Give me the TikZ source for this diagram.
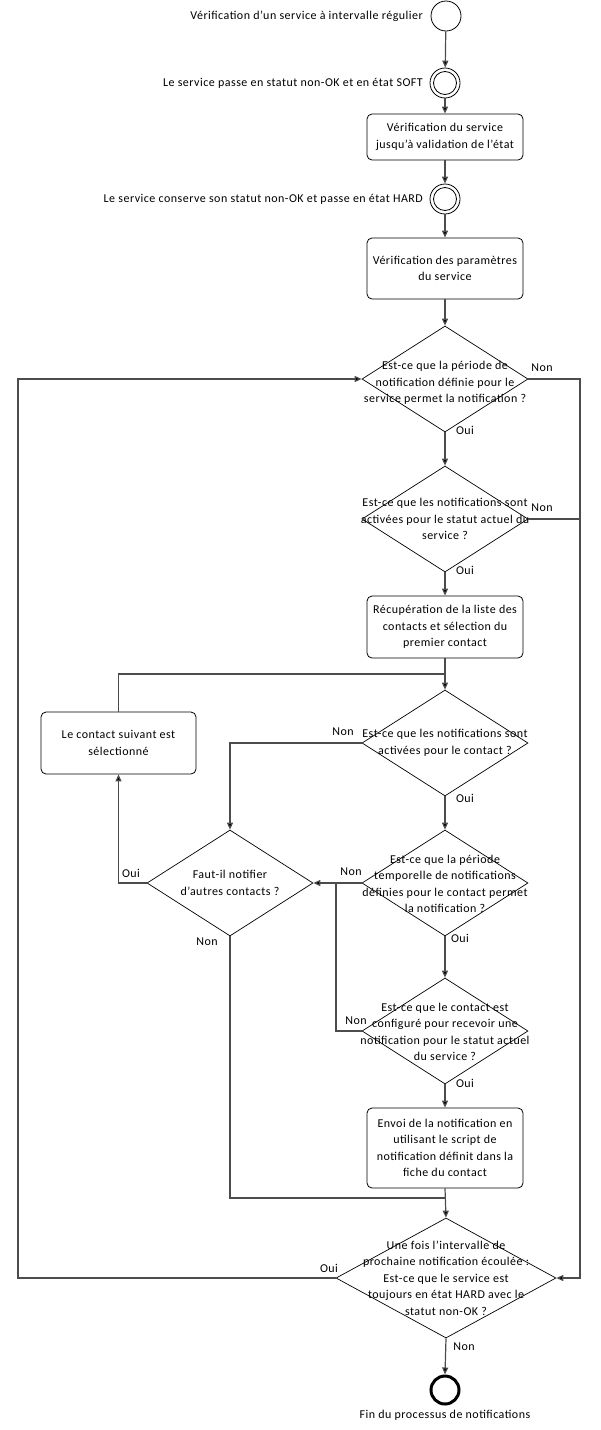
\documentclass[tikz,border=0pt]{standalone}
\usepackage{fontspec}
\setmainfont{Carlito}[LetterSpace=4]
\usetikzlibrary{arrows.meta,shapes.geometric}
\begin{document}
\begin{tikzpicture}[x=1pt,y=-1pt,
  every node/.style={font=\fontsize{12}{16.5}\selectfont},
  conn/.style={draw=black!70,line width=1.2pt},
  arr/.style={conn,-{Triangle[length=7pt,width=6pt,fill=black]}},
  box/.style={draw=black,line width=0.8pt,rounded corners=5pt,minimum width=156pt,inner sep=0pt,align=center},
  dia/.style={draw=black,line width=0.7pt,shape=diamond,minimum width=166pt,minimum height=106pt,inner sep=0pt},
  dtext/.style={align=center,inner sep=0pt},
  lbl/.style={inner sep=0pt},
  circ/.style={draw=black,line width=0.8pt,circle,minimum size=30pt,inner sep=0pt}
]
\useasboundingbox (0,0) rectangle (600,1430);

% start and state circles
\node[circ] (s0) at (446,16) {};
\node[lbl,anchor=east] (t0) at (423,16) {Vérification d’un service à intervalle régulier};
\node[circ] (c1) at (445,83) {};
\draw[line width=0.8pt] (c1.center) circle (11.5);
\node[lbl,anchor=east] (t1) at (423,83) {Le service passe en statut non-OK et en état SOFT};
\node[box,minimum height=46pt] (b1) at (445,137) {Vérification du service\\jusqu’à validation de l’état};
\node[circ] (c2) at (445,199) {};
\draw[line width=0.8pt] (c2.center) circle (11.5);
\node[lbl,anchor=east] (t2) at (423,199) {Le service conserve son statut non-OK et passe en état HARD};
\node[box,minimum height=61pt] (b2) at (445,268.5) {Vérification des paramètres\\du service};

% diamond 1
\node[dia] (d1) at (445,379) {};
\node[dtext] (d1t) at (445,383) {Est-ce que la période de\\notification définie pour le\\service permet la notification ?};
% diamond 2
\node[dia] (d2) at (445,519) {};
\node[dtext] (d2t) at (445,519) {Est-ce que les notifications sont\\activées pour le statut actuel du\\service ?};
\node[box,minimum height=62pt] (b3) at (445,627) {Récupération de la liste des\\contacts et sélection du\\premier contact};
% diamond 3
\node[dia] (d3) at (445,743) {};
\node[dtext] (d3t) at (445,743) {Est-ce que les notifications sont\\activées pour le contact ?};
\node[box,minimum width=155pt,minimum height=62pt] (b4) at (118.5,743) {Le contact suivant est\\sélectionné};
% Faut-il
\node[dia] (fa) at (230,883) {};
\node[dtext] (fat) at (230,883) {Faut-il notifier\\d’autres contacts ?};
% diamond 4
\node[dia] (d4) at (445,883) {};
\node[dtext] (d4t) at (445,884) {Est-ce que la période\\temporelle de notifications\\définies pour le contact permet\\la notification ?};
% diamond 5
\node[dia] (d5) at (445,1031) {};
\node[dtext] (d5t) at (445,1032) {Est-ce que le contact est\\configuré pour recevoir une\\notification pour le statut actuel\\du service ?};
\node[box,minimum height=80pt] (b5) at (445,1148) {Envoi de la notification en\\utilisant le script de\\notification définit dans la\\fiche du contact};
% diamond 6
\node[dia,minimum width=220pt,minimum height=120pt] (d6) at (446,1278) {};
\node[dtext] (d6t) at (446,1278) {Une fois l’intervalle de\\prochaine notification écoulée :\\Est-ce que le service est\\toujours en état HARD avec le\\statut non-OK ?};
% end
\node[draw=black,line width=3pt,circle,minimum size=28pt,inner sep=0pt] (e) at (445,1390) {};
\node[lbl] (et) at (445,1415) {Fin du processus de notifications};

% coordinates
\coordinate (rr) at (580,379);
\coordinate (ll) at (18,1278);
\coordinate (j1) at (445,674);
\coordinate (j2) at (336,883);
\coordinate (j3) at (445,1198);

% connectors
\draw[arr] (s0) -- (c1);
\draw[arr] (c1) -- (b1);
\draw[arr] (b1) -- (c2);
\draw[arr] (c2) -- (b2);
\draw[arr] (b2) -- (d1);
\draw[arr] (d1.south) -- (d2.north);
\draw[arr] (d2.south) -- (b3.north);
\draw[arr] (b3.south) -- (d3.north);
\draw[conn] (b4.north) |- (j1);
\draw[arr] (d1.east) -- (rr) |- (d6.east);
\draw[conn] (d2.east) -- (d2.east -| rr);
\draw[arr] (d3.west) -| (fa.north);
\draw[arr] (d3.south) -- (d4.north);
\draw[arr] (d4.west) -- (fa.east);
\draw[arr] (d4.south) -- (d5.north);
\draw[conn] (d5.west) -| (j2);
\draw[arr] (d5.south) -- (b5.north);
\draw[arr] (fa.west) -| (b4.south);
\draw[conn] (fa.south) |- (j3);
\draw[arr] (b5.south) -- (d6.north);
\draw[arr] (d6.west) -- (ll) |- (d1.west);
\draw[arr] (d6.south) -- (e.north);

% labels
\node[lbl] (n1) at (542,368) {Non};
\node[lbl] (o1) at (465,430) {Oui};
\node[lbl] (n2) at (542,508) {Non};
\node[lbl] (o2) at (465,570) {Oui};
\node[lbl] (n3) at (343,732) {Non};
\node[lbl] (o3) at (465,798) {Oui};
\node[lbl] (o4) at (131,873) {Oui};
\node[lbl] (n4) at (207,942) {Non};
\node[lbl] (n5) at (351,872) {Non};
\node[lbl] (o5) at (460,938) {Oui};
\node[lbl] (n6) at (356,1021) {Non};
\node[lbl] (o6) at (465,1083) {Oui};
\node[lbl] (o7) at (329,1268) {Oui};
\node[lbl] (n7) at (464,1347) {Non};
\end{tikzpicture}
\end{document}
